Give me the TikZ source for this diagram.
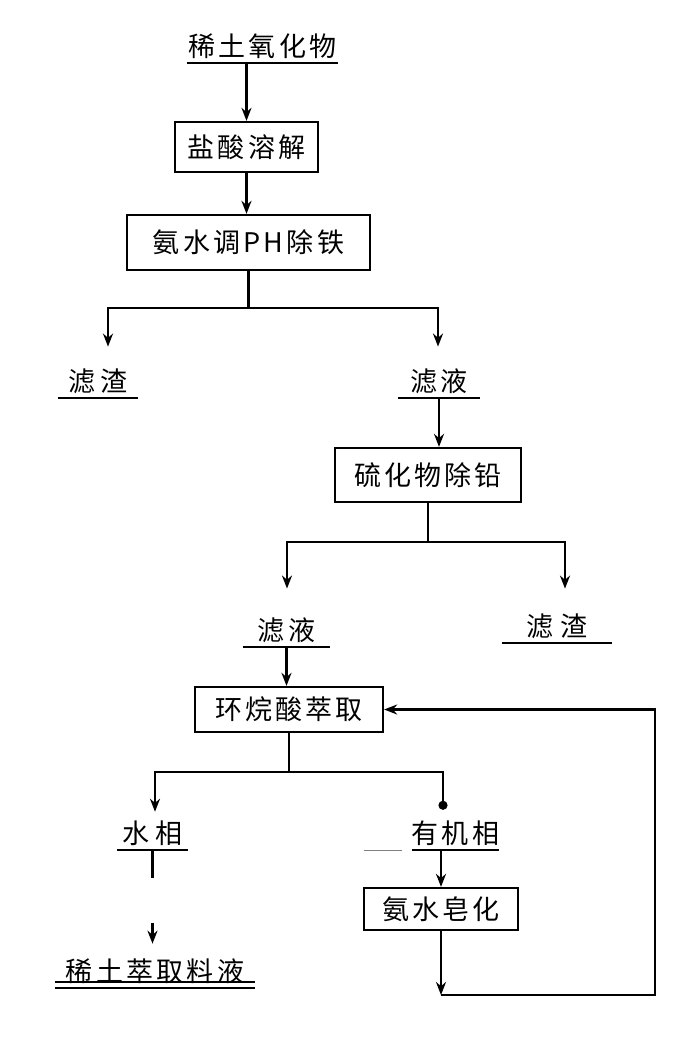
\documentclass[tikz,border=0pt]{standalone}
\usepackage{fontspec}
\newfontfamily\cjk[LetterSpace=12]{Noto Sans CJK SC}
\usetikzlibrary{arrows.meta}
\tikzset{
  txt/.style={font=\cjk\fontsize{27}{30}\selectfont},
  box/.style={txt, draw, line width=2.3pt, inner sep=0pt},
  lbl/.style={txt, anchor=south, inner xsep=0pt, inner ysep=4pt},
  ln/.style={line width=2.3pt},
  conn/.style={line width=2.3pt, -{Stealth[length=13pt,width=10pt]}},
  dotend/.style={line width=2.3pt, -{Circle[length=9pt]}},
  ul/.style={line width=2.3pt},
}
\begin{document}
\begin{tikzpicture}[x=1pt,y=-1pt]
\path[use as bounding box, fill=white] (0,0) rectangle (700,1037);

% labels (anchored at their underline)
\node[lbl, minimum width=151pt] (ox) at (262.5,63) {稀土氧化物};
\node[lbl, minimum width=80pt] (zz1) at (98,398) {滤\hspace{6pt}渣};
\node[lbl, minimum width=82pt] (zy1) at (439,398) {滤\hspace{4pt}液};
\node[lbl, minimum width=87pt] (zy2) at (286.5,647) {滤\hspace{4pt}液};
\node[lbl, minimum width=110pt] (zz2) at (557,643) {滤\hspace{8pt}渣};
\node[lbl, minimum width=71pt] (shui) at (152.5,850) {水\hspace{6pt}相};
\node[lbl, minimum width=85pt] (you) at (455.5,850) {有机相};
\node[lbl, minimum width=200pt] (fin) at (155,988) {稀土萃取料液};

% boxes
\node[box, minimum width=143pt, minimum height=50pt] (b1) at (246.5,147) {盐酸溶解};
\node[box, minimum width=243pt, minimum height=55pt] (b2) at (248.5,242.5) {氨水调PH除铁};
\node[box, minimum width=186pt, minimum height=54pt] (b3) at (428,475) {硫化物除铅};
\node[box, minimum width=188pt, minimum height=45pt] (b4) at (289,709.5) {环烷酸萃取};
\node[box, minimum width=154pt, minimum height=42pt] (b5) at (441,909) {氨水皂化};

% junction points
\coordinate (j1L) at (108,308);
\coordinate (j1R) at (438,308);
\coordinate (j2L) at (287,542);
\coordinate (j2R) at (565,542);
\coordinate (j3L) at (155,772);
\coordinate (j3R) at (443,772);
\coordinate (cB) at (441,995);
\coordinate (cR) at (655,995);

% underlines
\draw[ul] (ox.south west) -- (ox.south east);
\draw[ul] (zz1.south west) -- (zz1.south east);
\draw[ul] (zy1.south west) -- (zy1.south east);
\draw[ul] (zy2.south west) -- (zy2.south east);
\draw[ul] (zz2.south west) -- (zz2.south east);
\draw[ul] (shui.south west) -- (shui.south east);
\draw[ul] (you.south west) -- (you.south east);
\draw[line width=1pt, gray] ([xshift=-48pt]you.south west) -- ([xshift=-10pt]you.south west);
\draw[ul] (fin.south west) -- (fin.south east);
\draw[ul] ([yshift=6pt]fin.south west) -- ([yshift=6pt]fin.south east);

% connectors
\draw[conn] (ox.south -| b1.north) -- (b1.north);
\draw[conn] (b1.south) -- (b1.south |- b2.north);
\draw[conn, shorten >=18pt] (b2.south) |- (j1L) -- (j1L |- zz1.north);
\draw[conn, shorten >=18pt] (b2.south |- j1R) -- (j1R) -- (j1R |- zy1.north);
\draw[conn] (zy1.south) -- (zy1.south |- b3.north);
\draw[conn, shorten >=25pt] (b3.south) |- (j2L) -- (j2L |- zy2.north);
\draw[conn, shorten >=21pt] (b3.south |- j2R) -- (j2R) -- (j2R |- zz2.north);
\draw[conn] (zy2.south) -- (zy2.south |- b4.north);
\draw[conn, shorten >=5pt] (b4.south) |- (j3L) -- (j3L |- shui.north);
\draw[dotend, shorten >=7pt] (b4.south |- j3R) -- (j3R) -- (j3R |- you.north);
\draw[conn] (you.south -| b5.north) -- (b5.north);
\draw[conn, dash pattern=on 28pt off 45pt on 40pt, shorten >=11pt] (shui.south) -- (shui.south |- fin.north);
\draw[conn] (b5.south) -- (b5.south |- cB);
\draw[conn] (b5.south |- cB) -- (cR) |- (b4.east);
\end{tikzpicture}
\end{document}
